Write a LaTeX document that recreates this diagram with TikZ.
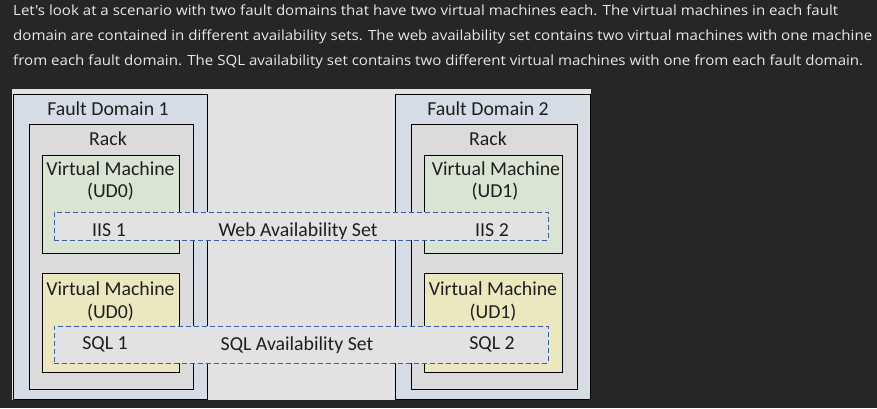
\documentclass[tikz,border=0pt]{standalone}
\usepackage{fontspec}
\usepackage{graphicx}
\setmainfont{Carlito}
\newfontfamily\parafont{Open Sans}
\definecolor{bgdark}{HTML}{262626}
\definecolor{paratext}{HTML}{E8E8E8}
\definecolor{canvasgray}{HTML}{E2E2E2}
\definecolor{fdfill}{HTML}{D6DCE5}
\definecolor{rackfill}{HTML}{DBDBDB}
\definecolor{vmgreen}{HTML}{D9E4D3}
\definecolor{vmyellow}{HTML}{EBE8C0}
\definecolor{setblue}{HTML}{3A5FA6}
\definecolor{inktext}{HTML}{1E1E1E}
\newcommand{\fitline}[2]{\resizebox{#1}{\height}{#2}}
\begin{document}
\begin{tikzpicture}[x=1pt,y=-1pt,
  boxshape/.style={draw=black,line width=0.9pt,inner sep=0pt,outer sep=0pt,anchor=north west},
  fdbox/.style={boxshape,fill=fdfill},
  rackbox/.style={boxshape,fill=rackfill},
  vmtop/.style={boxshape,fill=vmgreen},
  vmbot/.style={boxshape,fill=vmyellow},
  setbox/.style={draw=setblue,dash pattern=on 5pt off 3pt,line width=0.9pt,fill=canvasgray,inner sep=0pt,outer sep=0pt,anchor=north west},
  lbl/.style={font=\fontsize{19.8}{23}\selectfont,text=inktext,anchor=base,inner sep=0pt},
  para/.style={font=\parafont\fontsize{14}{25}\selectfont,text=paratext,anchor=base west,inner sep=0pt}
]
\useasboundingbox[fill=bgdark] (0,0) rectangle (877,408);
% paragraph
\node[para] (p1) at (13,15) {\fitline{825pt}{Let's look at a scenario with two fault domains that have two virtual machines each. The virtual machines in each fault}};
\node[para] (p2) at (13,40) {\fitline{859pt}{domain are contained in different availability sets. The web availability set contains two virtual machines with one machine}};
\node[para] (p3) at (13,65) {\fitline{850pt}{from each fault domain. The SQL availability set contains two different virtual machines with one from each fault domain.}};
% canvas
\node[anchor=north west,fill=canvasgray,inner sep=0pt,outer sep=0pt,minimum width=579pt,minimum height=311pt] (canvas) at (12,89) {};
% fault domains
\node[fdbox,minimum width=194pt,minimum height=305pt] (fd1) at (13,94) {};
\node[fdbox,minimum width=195pt,minimum height=305pt] (fd2) at (395,94) {};
% racks
\node[rackbox,minimum width=164pt,minimum height=265pt] (rack1) at (29,124) {};
\node[rackbox,minimum width=166pt,minimum height=265pt] (rack2) at (411,124) {};
% virtual machines
\node[vmtop,minimum width=137pt,minimum height=98pt] (vm1a) at (42,155) {};
\node[vmbot,minimum width=137pt,minimum height=99pt] (vm1b) at (42,273) {};
\node[vmtop,minimum width=138pt,minimum height=98pt] (vm2a) at (424,155) {};
\node[vmbot,minimum width=138pt,minimum height=99pt] (vm2b) at (424,273) {};
% availability sets
\node[setbox,minimum width=494pt,minimum height=28pt] (webset) at (54,212) {};
\node[setbox,minimum width=494pt,minimum height=37pt] (sqlset) at (54,326) {};
% labels
\node[lbl] (fd1t) at (108,115.7) {Fault Domain 1};
\node[lbl] (fd2t) at (488,115.7) {Fault Domain 2};
\node[lbl] (rack1t) at (108,145) {Rack};
\node[lbl] (rack2t) at (488,145) {Rack};
\node[lbl] (vm1at) at (110.5,175.7) {Virtual Machine};
\node[lbl] (vm1au) at (110.5,197.7) {(UD0)};
\node[lbl] (vm2at) at (496,175.7) {Virtual Machine};
\node[lbl] (vm2au) at (495,197.7) {(UD1)};
\node[lbl] (vm1bt) at (110.5,295.7) {Virtual Machine};
\node[lbl] (vm1bu) at (110.5,318.7) {(UD0)};
\node[lbl] (vm2bt) at (493,295.7) {Virtual Machine};
\node[lbl] (vm2bu) at (493,318.7) {(UD1)};
\node[lbl] (iis1) at (109,236.7) {IIS 1};
\node[lbl] (webt) at (298,236.7) {Web Availability Set};
\node[lbl] (iis2) at (492,236.7) {IIS 2};
\node[lbl] (sql1) at (105,349) {SQL 1};
\node[lbl] (sqlt) at (297,350) {SQL Availability Set};
\node[lbl] (sql2) at (492,349) {SQL 2};
\end{tikzpicture}
\end{document}
